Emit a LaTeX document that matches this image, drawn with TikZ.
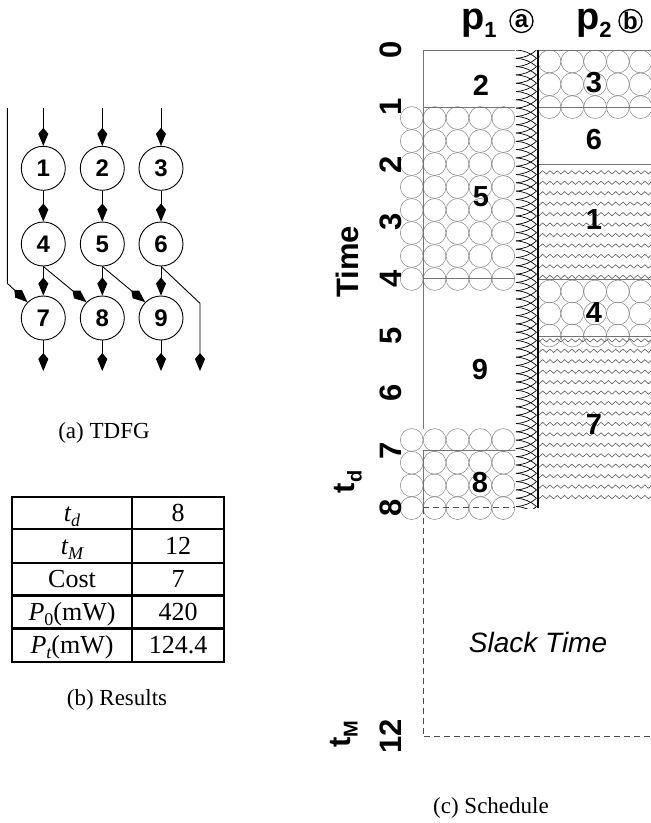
\documentclass[tikz,border=0pt]{standalone}
\usepackage{fontspec}
\setmainfont{Liberation Serif}
\newfontfamily\hv{Liberation Sans}
\usetikzlibrary{arrows.meta}
\begin{document}
\begin{tikzpicture}[x=1pt,y=-1pt,
  tn/.style={circle, draw, line width=0.9pt, minimum size=44pt, inner sep=0pt, font=\hv\bfseries\fontsize{24}{24}\selectfont},
  ar/.style={-{Kite[length=18pt,width=10pt,inset=6pt]}, line width=0.9pt},
  num/.style={font=\hv\bfseries\fontsize{29}{29}\selectfont, inner sep=0pt},
  tickl/.style={rotate=90, font=\hv\bfseries\fontsize{31}{31}\selectfont, inner sep=0pt},
  captxt/.style={font=\fontsize{23}{23}\selectfont, anchor=base, inner sep=0pt},
  tb/.style={font=\fontsize{26}{26}\selectfont, anchor=base, inner sep=0pt},
  bx/.style={draw=black!55, line width=0.8pt},
  pat/.style={draw=black!50, line width=0.5pt},
  zz/.style={draw=black!65, line width=0.6pt},
  xh/.style={draw=black, line width=0.7pt},
  dsh/.style={draw=black!70, line width=0.8pt, dash pattern=on 6pt off 4pt},
  hdr/.style={font=\hv\bfseries, anchor=base west, inner sep=0pt},
  circl/.style={circle, draw, line width=1.3pt, minimum size=23pt, inner sep=0pt, font=\hv\bfseries\fontsize{24}{24}\selectfont}
]
\useasboundingbox (0,0) rectangle (651,823);

% ---------- (a) TDFG ----------
\node[tn] (n1) at (43.3,168.3) {1};
\node[tn] (n2) at (102.3,168.3) {2};
\node[tn] (n3) at (161,168.3) {3};
\node[tn] (n4) at (43.3,244) {4};
\node[tn] (n5) at (102.3,244) {5};
\node[tn] (n6) at (161,244) {6};
\node[tn] (n7) at (43.3,318) {7};
\node[tn] (n8) at (102.3,318) {8};
\node[tn] (n9) at (161,318) {9};
\coordinate (i0) at (7.3,108);
\coordinate (b0) at (7.3,283.3);
\coordinate (i1) at (43.3,108);
\coordinate (i2) at (102.3,108);
\coordinate (i3) at (161,108);
\coordinate (j6) at (200,303.3);
\coordinate (o6) at (200,371);
\coordinate (o7) at (43.3,371);
\coordinate (o8) at (102.3,371);
\coordinate (o9) at (161,371);
\draw[ar] (i1) -- (n1);
\draw[ar] (i2) -- (n2);
\draw[ar] (i3) -- (n3);
\draw[ar] (n1) -- (n4);
\draw[ar] (n2) -- (n5);
\draw[ar] (n3) -- (n6);
\draw[ar] (n4) -- (n7);
\draw[ar] (n5) -- (n8);
\draw[ar] (n6) -- (n9);
\draw[ar] (n4.south) -- (n8.135);
\draw[ar] (n5.south) -- (n9.135);
\draw[ar] (i0) -- (b0) -- (n7.135);
\draw[ar] (n6.south) -- (j6) -- (o6);
\draw[ar] (n7) -- (o7);
\draw[ar] (n8) -- (o8);
\draw[ar] (n9) -- (o9);
\node[captxt] (capa) at (104,438) {(a) TDFG};

% ---------- (b) Results ----------
\draw[line width=2.3pt] (11.7,496.7) rectangle (224,661.7);
\draw[line width=2.3pt] (11.7,529.3) -- (224,529.3);
\draw[line width=2.3pt] (11.7,562.7) -- (224,562.7);
\draw[line width=2.3pt] (11.7,595.5) -- (224,595.5);
\draw[line width=3.5pt] (11.7,628.3) -- (224,628.3);
\draw[line width=2.3pt] (132.3,496.7) -- (132.3,661.7);
\node[tb] (r1a) at (72,521.5) {\itshape t\raisebox{-5pt}{\fontsize{18}{18}\selectfont d}};
\node[tb] (r1b) at (178,521.5) {8};
\node[tb] (r2a) at (72,554.5) {\itshape t\raisebox{-5pt}{\fontsize{18}{18}\selectfont M}};
\node[tb] (r2b) at (178,554.5) {12};
\node[tb] (r3a) at (72,587.5) {Cost};
\node[tb] (r3b) at (178,587.5) {7};
\node[tb] (r4a) at (72,620.5) {\textit{P}\raisebox{-5pt}{\fontsize{18}{18}\selectfont 0}(mW)};
\node[tb] (r4b) at (178,620.5) {420};
\node[tb] (r5a) at (72,653.5) {\textit{P}\raisebox{-5pt}{\fontsize{18}{18}\selectfont\itshape t}(mW)};
\node[tb] (r5b) at (178,653.5) {124.4};
\node[captxt] (capb) at (117,705) {(b) Results};

% ---------- (c) Schedule ----------
% circle patterns
\foreach \x in {411.7,434.6,457.5,480.4,503.3}
  \foreach \y in {118,141,164,187,210,233,256,279}
    \draw[pat] (\x,\y) circle[radius=11.4pt];
\foreach \x in {411.7,434.6,457.5,480.4,503.3}
  \foreach \y in {440,462.7,485.4,508.1}
    \draw[pat] (\x,\y) circle[radius=11.4pt];
\begin{scope}
  \clip (538.5,40) rectangle (651,400);
  \foreach \x in {549.5,572.3,595.1,617.9,640.7,663.5}
    \foreach \y in {61.5,84.3,107.1}
      \draw[pat] (\x,\y) circle[radius=11.4pt];
  \foreach \x in {549.5,572.3,595.1,617.9,640.7,663.5}
    \foreach \y in {291.5,313.5,335.5}
      \draw[pat] (\x,\y) circle[radius=11.4pt];
\end{scope}
% zigzag patterns
\begin{scope}
  \clip (538.5,164.4) rectangle (651,508);
  \foreach \k [evaluate=\k as \yy using 174+10.45*\k] in {0,...,10}
    \draw[zz] (539,\yy) \foreach \i in {1,...,16} { -- ++(3.65,-3.3) -- ++(3.65,3.3)};
  \foreach \k [evaluate=\k as \yy using 342+10.45*\k] in {0,...,15}
    \draw[zz] (539,\yy) \foreach \i in {1,...,16} { -- ++(3.65,-3.3) -- ++(3.65,3.3)};
\end{scope}
% crosshatch strip
\begin{scope}
  \clip (514,50) rectangle (538,508);
  \foreach \k [evaluate=\k as \yy using 50+8.3*\k] in {0,...,56} {
    \draw[xh] (516,\yy) to[bend left=18] (536.5,\yy+8.3);
    \draw[xh] (516,\yy) to[bend right=18] (536.5,\yy-8.3);
  }
\end{scope}
% box outlines
\draw[bx] (423,50) -- (514.5,50);
\draw[bx] (423,107.2) -- (514.5,107.2);
\draw[bx] (423,278.8) -- (514.5,278.8);
\draw[bx] (423,450.4) -- (514.5,450.4);
\draw[bx] (423,50) -- (423,429);
\draw[bx] (423,450.4) -- (423,507.6);
\draw[bx] (538,50) -- (651,50);
\draw[bx] (538,107.2) -- (651,107.2);
\draw[bx] (538,164.4) -- (651,164.4);
\draw[bx] (538,279.5) -- (651,279.5);
\draw[bx] (538,336) -- (651,336);
\draw[line width=2pt] (537.5,50) -- (537.5,507.6);
\draw[dsh] (423,507.6) -- (514.5,507.6);
\draw[dsh] (423,507.6) -- (423,736.4) -- (651,736.4);
% task labels
\node[num] (t2) at (481,85) {2};
\node[num] (t3) at (594,83) {3};
\node[num] (t6) at (594,140) {6};
\node[num] (t5) at (481,197) {5};
\node[num] (t1) at (594,220) {1};
\node[num] (t4) at (594,313) {4};
\node[num] (t9) at (480,370) {9};
\node[num] (t7) at (594,425) {7};
\node[num] (t8) at (480,483) {8};
% axis
\foreach \k in {0,...,8}
  \node[tickl] (tk\k) at (391,{50+57.2*\k}) {\k};
\node[tickl] (tk12) at (391,736.4) {12};
\node[tickl] (time) at (347.5,262) {Time};
\node[tickl] (td) at (348,482) {t\raisebox{-7pt}{\fontsize{20}{20}\selectfont d}};
\node[tickl] (tM) at (344,734) {t\raisebox{-7pt}{\fontsize{20}{20}\selectfont M}};
% headers
\node[hdr] (p1) at (461,29) {\fontsize{38}{38}\selectfont p\raisebox{-8pt}{\fontsize{22}{22}\selectfont 1}};
\node[hdr] (p2) at (576,29) {\fontsize{38}{38}\selectfont p\raisebox{-8pt}{\fontsize{22}{22}\selectfont 2}};
\node[circl] (ca) at (521.5,21) {a};
\node[circl] (cb) at (630.5,21) {b};
\node[font=\hv\itshape\fontsize{28}{28}\selectfont, inner sep=0pt] (slack) at (538,642) {Slack Time};
\node[captxt] (capc) at (491,813) {(c) Schedule};
\end{tikzpicture}
\end{document}
